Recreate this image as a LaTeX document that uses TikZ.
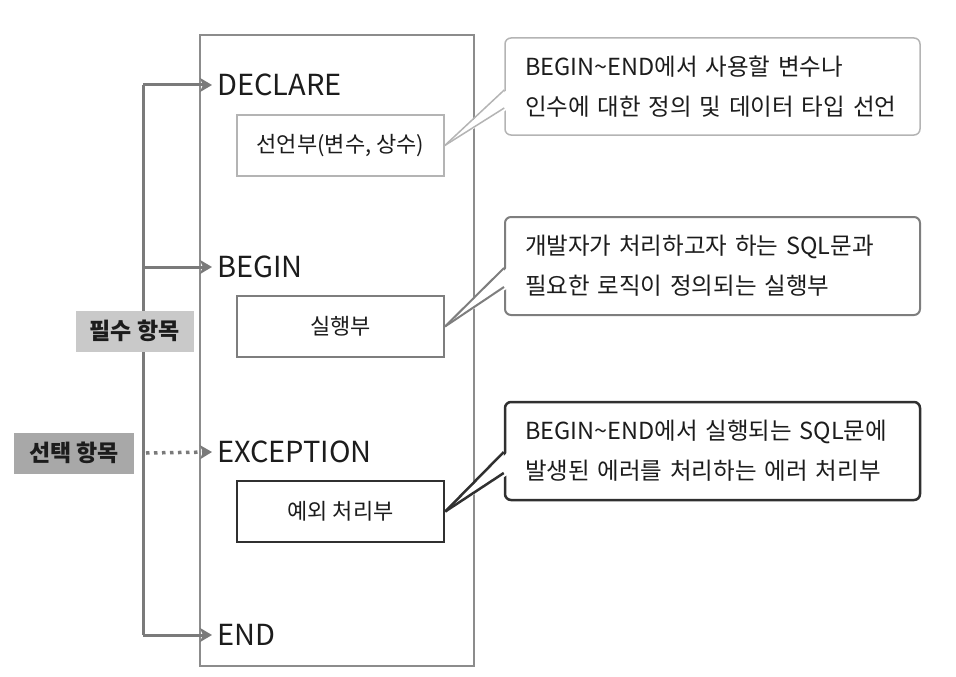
\documentclass[tikz,border=0pt]{standalone}
\usepackage{fontspec}
\setmainfont{Noto Sans CJK KR}
\usetikzlibrary{arrows.meta}
\definecolor{conn}{HTML}{7A7A7A}
\definecolor{frame}{HTML}{8C8C8C}
\definecolor{lightb}{HTML}{B4B4B4}
\definecolor{midb}{HTML}{7E7E7E}
\definecolor{darkb}{HTML}{303030}
\definecolor{txt}{HTML}{1C1C1C}
\definecolor{labA}{HTML}{C9C9C9}
\definecolor{labB}{HTML}{A8A8A8}
\begin{document}
\begin{tikzpicture}[x=1pt,y=-1pt,
  kw/.style={anchor=west,inner xsep=5pt,inner ysep=1pt,text=txt,font=\fontsize{29}{32}\selectfont},
  conn/.style={draw=conn,line width=3pt},
  tip/.style={-{Stealth[length=12pt,width=14pt,inset=3pt]}},
  arr/.style={conn,tip},
  part/.style={minimum width=207pt,minimum height=61pt,inner sep=0pt,fill=white,text=txt,font=\fontsize{22}{26}\selectfont},
  callout/.style={rounded corners=6pt,fill=white,text width=375pt,inner xsep=20pt,align=left,text=txt,font=\fontsize{23.5}{40}\selectfont},
  lab/.style={minimum width=118pt,minimum height=41pt,inner sep=0pt,text=txt,font=\fontsize{23}{26}\selectfont\bfseries}
]
\useasboundingbox (0,0) rectangle (956,677);
% main frame
\node[draw=frame,line width=2pt,minimum width=274pt,minimum height=631pt,inner sep=0pt] (main) at (337,350.5) {};
% keywords
\node[kw] (dec) at (212,85) {DECLARE};
\node[kw] (beg) at (212,267) {BEGIN};
\node[kw] (exc) at (212,452) {EXCEPTION};
\node[kw] (endk) at (212,635) {END};
% parts
\node[part,draw=lightb,line width=1.5pt] (b1) at (340.5,145.5) {선언부(변수, 상수)};
\node[part,draw=midb,line width=2pt] (b2) at (340.5,326.5) {실행부};
\node[part,draw=darkb,line width=2.5pt] (b3) at (340.5,511.5) {예외 처리부};
% trunk
\coordinate (ttop) at (143,85);
\coordinate (tbot) at (143,635);
\draw[conn] (ttop) -- (tbot);
\draw[arr] (ttop) -- (dec.west);
\draw[arr] (ttop |- beg.west) -- (beg.west);
\draw[arr] (tbot) -- (endk.west);
% labels
\node[lab,fill=labA] (l1) at (134.5,331) {필수 항목};
\node[lab,fill=labB,minimum width=120pt] (l2) at (74,453) {선택 항목};
\draw[conn,line width=3.5pt,dash pattern=on 3.5pt off 4.5pt,tip] (l2.east -| 146,0) -- (exc.west);
% callouts
\node[callout,draw=lightb,line width=1.5pt,minimum height=97pt] (c1) at (712.5,86.5)
  {BEGIN\textasciitilde END에서 사용할 변수나\\인수에 대한 정의 및 데이터 타입 선언};
\node[callout,draw=midb,line width=2pt,minimum height=98pt] (c2) at (712.5,266)
  {개발자가 처리하고자 하는 SQL문과\\필요한 로직이 정의되는 실행부};
\node[callout,draw=darkb,line width=2.5pt,minimum height=98pt] (c3) at (712.5,451)
  {BEGIN\textasciitilde END에서 실행되는 SQL문에\\발생된 에러를 처리하는 에러 처리부};
% pointers
\fill[white] (b1.east) -- (508,89) -- (508,109) -- cycle;
\draw[lightb,line width=1.5pt] (b1.east) -- (c1.west |- 0,90);
\draw[lightb,line width=1.5pt] (b1.east) -- (c1.west |- 0,108);
\fill[white] (b2.east) -- (508,267) -- (508,288) -- cycle;
\draw[midb,line width=2pt] (b2.east) -- (c2.west |- 0,268);
\draw[midb,line width=2pt] (b2.east) -- (c2.west |- 0,287);
\fill[white] (b3.east) -- (509,451) -- (509,474) -- cycle;
\draw[darkb,line width=2.5pt] (b3.east) -- (c3.west |- 0,452);
\draw[darkb,line width=2.5pt] (b3.east) -- (c3.west |- 0,473);
\end{tikzpicture}
\end{document}
